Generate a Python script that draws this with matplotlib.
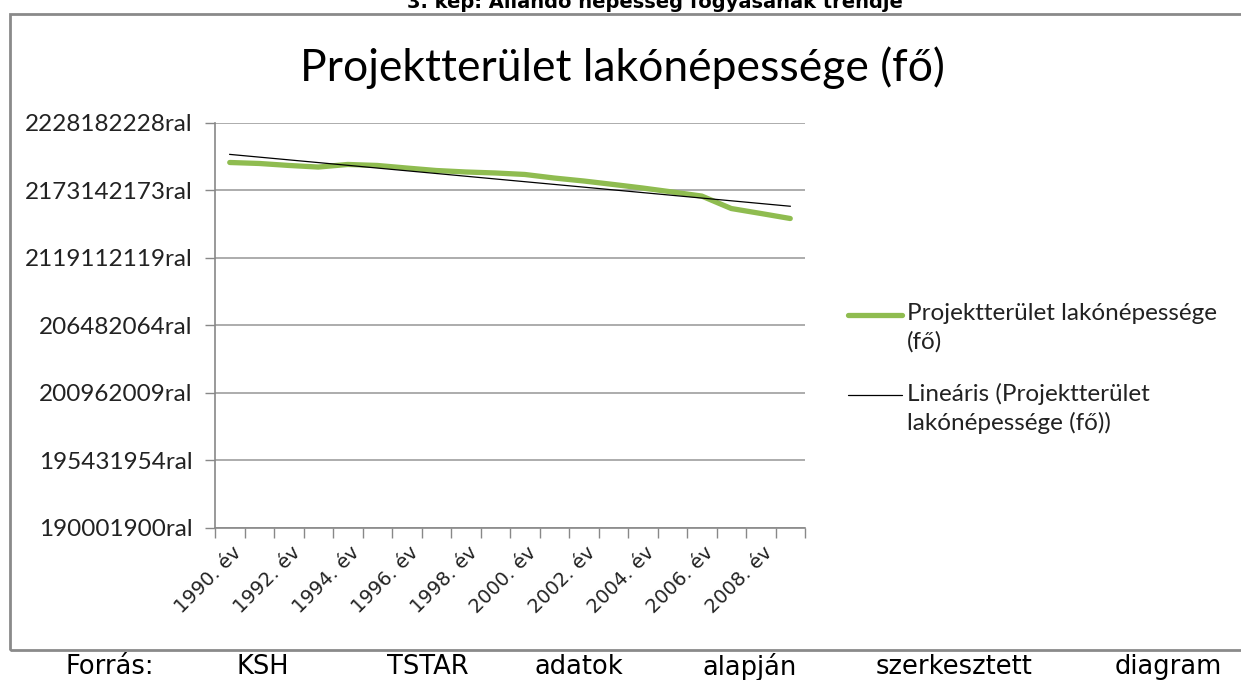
import numpy as np
import matplotlib.pyplot as plt
import matplotlib.transforms as mtransforms
from matplotlib.patches import Rectangle
from matplotlib.lines import Line2D

# --- data ---
years = [f"{y}. év" for y in range(1990, 2010)]
population = [21962, 21954, 21938, 21925, 21946, 21938, 21917, 21897, 21885, 21877,
              21865, 21836, 21812, 21784, 21755, 21723, 21690, 21589, 21549, 21508]
ytick_values = [19000, 19547, 20094, 20641, 21188, 21735, 22282]
ytick_labels = ['190001900ral', '195431954ral', '200962009ral', '206482064ral',
                '2119112119ral', '2173142173ral', '2228182228ral']
series_label = 'Projektterület lakónépessége\n(fő)'
trend_label = 'Lineáris (Projektterület\nlakónépessége (fő))'

x = np.arange(len(years))
y = np.array(population, dtype=float)
coef = np.polyfit(x, y, 1)
trend = np.polyval(coef, x)

W, H = 1241, 680
fig = plt.figure(figsize=(W / 100, H / 100), dpi=100)
ax = fig.add_axes([215 / W, 1 - 528 / H, 590 / W, 405 / H])

green = '#8fbc50'
green_lw, trend_lw = 3.8, 0.9
ax.plot(x, y, color=green, lw=green_lw, solid_capstyle='round')
ax.plot(x, trend, color='black', lw=trend_lw)

ax.set_xlim(-0.5, len(years) - 0.5)
ax.set_ylim(ytick_values[0], ytick_values[-1])
ax.set_yticks(ytick_values)
ax.set_yticklabels(ytick_labels, family='Lato', fontsize=17.5, color='#222222')
ax.yaxis.grid(True, color='#a6a6a6', lw=1.3)
ax.set_axisbelow(True)

# category boundary ticks, labels every second year (as Excel does)
ax.set_xticks(np.arange(-0.5, len(years), 1))
ax.set_xticklabels([])
ax.tick_params(axis='x', length=7, color='#888888', width=1)
ax.tick_params(axis='y', length=7, color='#888888', width=1, pad=9)
shift = mtransforms.ScaledTranslation(9 / 72, -18.5 / 72, fig.dpi_scale_trans)
for xi, lab in zip(x[::2], years[::2]):
    ax.text(xi, 0, lab, transform=ax.get_xaxis_transform() + shift,
            rotation=45, ha='right', va='baseline', rotation_mode='anchor',
            fontsize=14, family='DejaVu Sans', color='#222222')

for s in ['top', 'right']:
    ax.spines[s].set_visible(False)
for s in ['left', 'bottom']:
    ax.spines[s].set_color('#888888')
    ax.spines[s].set_linewidth(1.2)

# legend, Excel style: handle level with the first text line
for (ly, color, lw, label) in [(315, green, green_lw, series_label),
                               (395, 'black', trend_lw, trend_label)]:
    fig.add_artist(Line2D([848 / W, 902 / W], [1 - ly / H] * 2, color=color,
                          lw=lw, solid_capstyle='round'))
    fig.text(907 / W, 1 - (ly - 12) / H, label, family='Lato', fontsize=17.5,
             ha='left', va='top', linespacing=1.4, color='#222222')

fig.text(622 / W, 1 - 68 / H, 'Projektterület lakónépessége (fő)',
         family='Lato', fontsize=32, ha='center', va='center')

# chart frame
fig.patches.append(Rectangle((10 / W, 1 - 650 / H), 1.1, 636 / H,
                             transform=fig.transFigure, fill=False,
                             edgecolor='#8a8a8a', lw=2))

# caption cut by the top edge, as in the scan
fig.text(655 / W, 1 - 8 / H, '3. kép: Állandó népesség fogyásának trendje',
         fontsize=14, fontweight='bold', ha='center', va='baseline')

# source line, justified
words = ['Forrás:', 'KSH', 'TSTAR', 'adatok', 'alapján', 'szerkesztett', 'diagram']
word_x = [65, 237, 387, 535, 702, 876, 1115]
for w, wx in zip(words, word_x):
    fig.text(wx / W, 1 - 667 / H, w, fontsize=18.5, ha='left', va='center')

fig.savefig('out.png', dpi=100)
